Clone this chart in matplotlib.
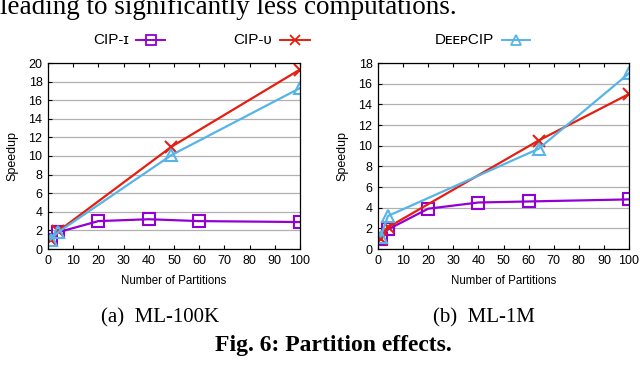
import matplotlib.pyplot as plt
from matplotlib.lines import Line2D

# ML-100K
x_ci_a = [1, 4, 20, 40, 60, 100]
cip_i_a = [1.0, 1.8, 3.0, 3.2, 3.0, 2.9]
x_cu_a = [1, 4, 49, 100]
cip_u_a = [1.0, 1.9, 11.0, 19.3]
x_dc_a = [1, 4, 49, 100]
deep_a = [1.0, 1.8, 10.1, 17.3]

# ML-1M
x_ci_b = [1, 4, 20, 40, 60, 100]
cip_i_b = [1.0, 1.9, 3.9, 4.5, 4.6, 4.8]
x_cu_b = [1, 4, 64, 100]
cip_u_b = [1.0, 2.1, 10.5, 15.0]
x_dc_b = [1, 4, 64, 100]
deep_b = [1.2, 3.2, 9.7, 17.0]

purple = '#9400d3'
red = '#e51e10'
blue = '#56b4e9'
sans = ['Liberation Sans', 'DejaVu Sans']
serif = ['Liberation Serif', 'DejaVu Serif']

fig = plt.figure(figsize=(6.4, 3.83), dpi=100)
W, H = 640, 383

styles = {
    'i': dict(color=purple, marker='s', markerfacecolor='none'),
    'u': dict(color=red, marker='x'),
    'd': dict(color=blue, marker='^', markerfacecolor='none'),
}


def make_ax(left, right, top, bottom):
    return fig.add_axes([left / W, 1 - bottom / H, (right - left) / W, (bottom - top) / H])


def style(ax, ymax):
    ax.set_xlim(0, 100)
    ax.set_ylim(0, ymax)
    ax.set_xticks(range(0, 101, 10))
    ax.set_yticks(range(0, ymax + 1, 2))
    ax.yaxis.grid(True, color='#b0b0b0', linewidth=0.9)
    ax.set_axisbelow(True)
    ax.tick_params(direction='in', length=3, labelsize=9, pad=4, top=True)
    for lab in ax.get_xticklabels() + ax.get_yticklabels():
        lab.set_family(sans)
    ax.set_xlabel('Number of Partitions', fontsize=8.3, family=sans, labelpad=6)
    ax.set_ylabel('Speedup', fontsize=9, family=sans, labelpad=7)
    for s in ax.spines.values():
        s.set_linewidth(0.9)


def draw(ax, xi, yi, xu, yu, xd, yd):
    ax.plot(xi, yi, markersize=8, markeredgewidth=1.5, linewidth=1.6, **styles['i'])
    ax.plot(xu, yu, markersize=9, markeredgewidth=1.5, linewidth=1.6, **styles['u'])
    ax.plot(xd, yd, markersize=8, markeredgewidth=1.5, linewidth=1.6, **styles['d'])


def legend_entry(label, tx, lx0, lx1, y, key):
    fig.text(tx / W, 1 - y / H, label, fontsize=11, family=sans, ha='left', va='center')
    xm = (lx0 + lx1) / 2
    fig.add_artist(Line2D([lx0 / W, xm / W, lx1 / W], [1 - y / H] * 3, transform=fig.transFigure,
                          markevery=[1], markersize=6.5, markeredgewidth=1.3, linewidth=1.4,
                          **styles[key]))


ax1 = make_ax(48, 300, 63, 249)
draw(ax1, x_ci_a, cip_i_a, x_cu_a, cip_u_a, x_dc_a, deep_a)
style(ax1, 20)

ax2 = make_ax(378, 629, 63, 249)
draw(ax2, x_ci_b, cip_i_b, x_cu_b, cip_u_b, x_dc_b, deep_b)
style(ax2, 18)

legend_entry('CIP-ɪ', 93, 136, 165, 40, 'i')
legend_entry('CIP-ᴜ', 233, 280, 310, 40, 'u')
legend_entry('DᴇᴇᴘCIP', 435, 502, 530, 40, 'd')

fig.text(0 / W, 1 - 14.5 / H, 'leading to significantly less computations.', fontsize=19.5,
         family=serif, ha='left', va='baseline')
fig.text(160 / W, 1 - 318 / H, '(a)  ML-100K', fontsize=15, family=serif, ha='center', va='center')
fig.text(484 / W, 1 - 318 / H, '(b)  ML-1M', fontsize=15, family=serif, ha='center', va='center')
fig.text(333 / W, 1 - 346 / H, 'Fig. 6: Partition effects.', fontsize=17, family=serif,
         fontweight='bold', ha='center', va='center')

fig.savefig('out.png', dpi=100)
